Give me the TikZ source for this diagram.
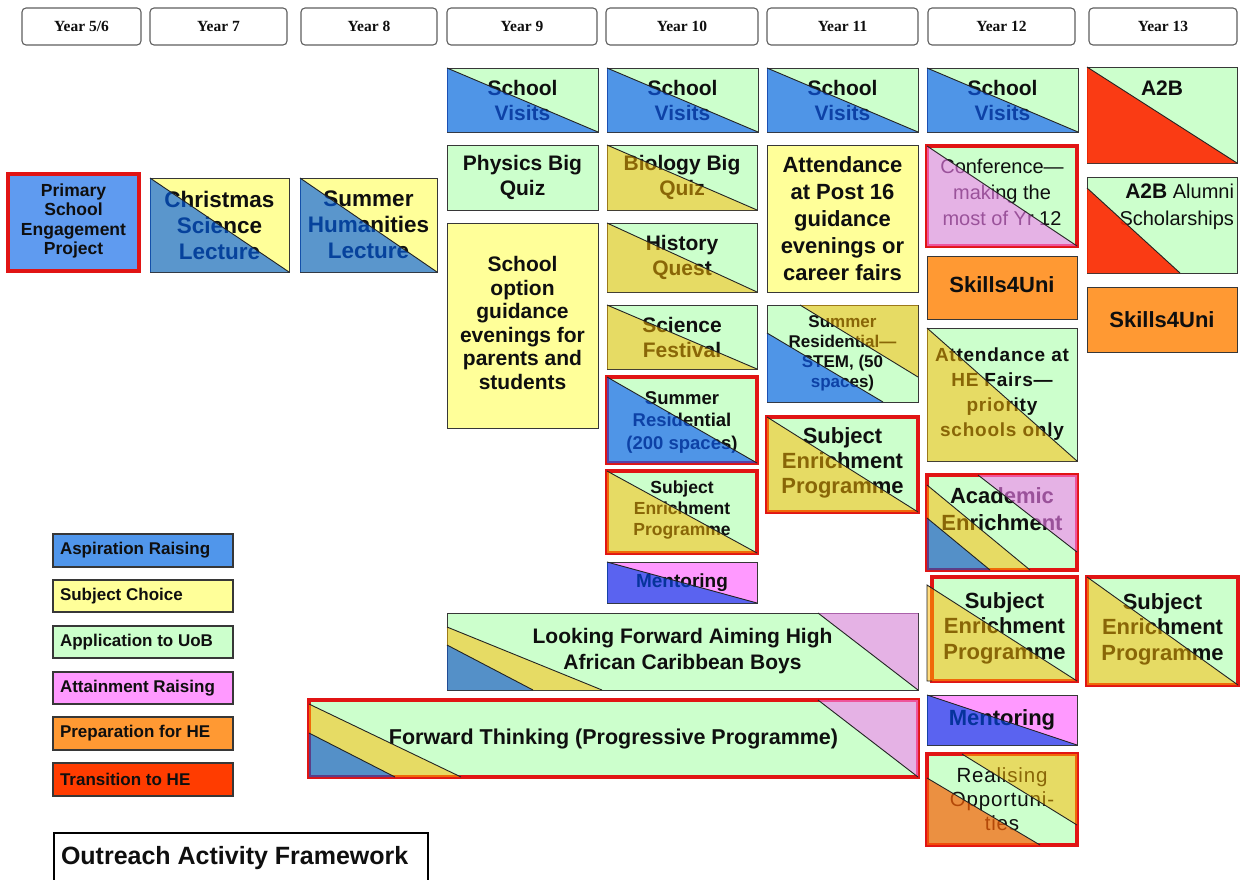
\documentclass[tikz,border=0pt]{standalone}
\usepackage{fontspec}
\setmainfont{Liberation Sans}
\newfontfamily\hdrfont{Liberation Serif}
\newfontfamily\spacedfont[LetterSpace=4]{Liberation Sans}
\usetikzlibrary{fit}

% category colours
\definecolor{appgreen}{RGB}{204,255,204}
\definecolor{subjyellow}{RGB}{255,255,153}
\definecolor{aspblue}{RGB}{80,150,235}
\definecolor{attpink}{RGB}{255,153,255}
\definecolor{prepor}{RGB}{255,153,51}
\definecolor{transred}{RGB}{255,60,0}
\definecolor{primblue}{RGB}{95,155,240}
\definecolor{framered}{RGB}{225,20,20}
\definecolor{edgegrey}{RGB}{55,55,55}
\definecolor{hdredge}{RGB}{95,95,95}
\definecolor{diagc}{RGB}{35,35,35}
\definecolor{ink}{RGB}{15,15,15}
% translucent overlay colours (tint the text and frames beneath them)
\definecolor{cOvBlue}{RGB}{13,93,247}
\definecolor{cOvSteelY}{RGB}{2,94,232}
\definecolor{cOvSteelG}{RGB}{21,86,198}
\definecolor{cOvOlive}{RGB}{255,186,0}
\definecolor{cOvPink}{RGB}{247,127,247}
\definecolor{cOvOrange}{RGB}{249,97,6}
\definecolor{cOvMentor}{RGB}{2,71,232}
\definecolor{cOvRed}{RGB}{255,38,0}

\newcommand\fsz[2]{\fontsize{#1}{#2}\selectfont}
% lower-left half of a box, split along its diagonal
\newcommand\lowtri[2]{%
  \fill[#2] (#1.north west) -- (#1.south east) -- (#1.south west) -- cycle;
  \draw[diag] (#1.north west) -- (#1.south east);}

\begin{document}
\begin{tikzpicture}[x=1pt, y=-1pt,
  panel/.style={draw=edgegrey, line width=1pt, inner sep=0pt, outer sep=0pt},
  redbox/.style={draw=framered, line width=3.6pt},
  hdr/.style={draw=hdredge, line width=1.1pt, rounded corners=4pt, fill=white,
    inner sep=0pt, outer sep=0pt},
  hdrtxt/.style={inner sep=0pt, outer sep=0pt, anchor=base, text=ink,
    font=\hdrfont\bfseries\fsz{15.5}{18}},
  key/.style={draw=edgegrey, line width=1.6pt, inner sep=0pt, outer sep=0pt},
  lbl/.style={inner sep=0pt, outer sep=0pt, align=center, text=ink},
  keytxt/.style={inner sep=0pt, outer sep=0pt, anchor=west, text=ink, font=\bfseries\fsz{17}{20}},
  diag/.style={draw=diagc, line width=0.9pt},
  triblue/.style={fill=cOvBlue, fill opacity=0.65},
  tristeely/.style={fill=cOvSteelY, fill opacity=0.65},
  tristeelg/.style={fill=cOvSteelG, fill opacity=0.65},
  triolive/.style={fill=cOvOlive, fill opacity=0.51},
  tripink/.style={fill=cOvPink, fill opacity=0.6},
  triorange/.style={fill=cOvOrange, fill opacity=0.7},
  trimentor/.style={fill=cOvMentor, fill opacity=0.65},
  trired/.style={fill=cOvRed, fill opacity=0.9}
]
\path[use as bounding box, fill=white] (0,0) rectangle (1240,879);
\clip (0,0) rectangle (1240,879);

% ---- year headers ----
\node[hdr, fit={(22,8)(141,45)}] (h56) {};
\node[hdrtxt] (h56t) at (81.5,31) {Year 5/6};
\node[hdr, fit={(150,8)(287,45)}] (h7) {};
\node[hdrtxt] (h7t) at (218.5,31) {Year 7};
\node[hdr, fit={(301,8)(437,45)}] (h8) {};
\node[hdrtxt] (h8t) at (369,31) {Year 8};
\node[hdr, fit={(447,8)(597,45)}] (h9) {};
\node[hdrtxt] (h9t) at (522,31) {Year 9};
\node[hdr, fit={(606,8)(758,45)}] (h10) {};
\node[hdrtxt] (h10t) at (682,31) {Year 10};
\node[hdr, fit={(767,8)(918,45)}] (h11) {};
\node[hdrtxt] (h11t) at (842.5,31) {Year 11};
\node[hdr, fit={(928,8)(1075,45)}] (h12) {};
\node[hdrtxt] (h12t) at (1001.5,31) {Year 12};
\node[hdr, fit={(1089,8)(1237,45)}] (h13) {};
\node[hdrtxt] (h13t) at (1163,31) {Year 13};

% ---- Years 5/6 to 8 ----
\node[panel, fill=primblue, draw=framered, line width=4.5pt, fit={(8,174)(139,271)}] (pse) {};
\node[lbl, font=\bfseries\fsz{17.5}{19.5}] (pset) at (73.5,221) {Primary\\School\\Engagement\\Project};

\node[panel, fill=subjyellow, fit={(150,178)(289,272)}] (csl) {};
\node[lbl, font=\bfseries\fsz{22.5}{26}] (cslt) at (csl.center) {Christmas\\Science\\Lecture};
\lowtri{csl}{tristeely}

\node[panel, fill=subjyellow, fit={(300,178)(437,272)}] (shl) {};
\node[lbl, font=\bfseries\fsz{22.5}{26}] (shlt) at (shl.center) {Summer\\Humanities\\Lecture};
\lowtri{shl}{tristeely}

% ---- Year 9 ----
\node[panel, fill=appgreen, fit={(447,68)(598,132)}] (sv9) {};
\node[lbl, font=\bfseries\fsz{21}{25}] (sv9t) at (sv9.center) {School\\Visits};
\lowtri{sv9}{triblue}

\node[panel, fill=appgreen, fit={(447,145)(598,210)}] (pbq) {};
\node[lbl, font=\bfseries\fsz{21}{25}] (pbqt) at (pbq.center) {Physics Big\\Quiz};

\node[panel, fill=subjyellow, fit={(447,223)(598,428)}] (sog) {};
\node[lbl, font=\bfseries\fsz{21}{23.5}] (sogt) at (522.5,323) {School\\option\\guidance\\evenings for\\parents and\\students};

% ---- Year 10 ----
\node[panel, fill=appgreen, fit={(607,68)(758,132)}] (sv10) {};
\node[lbl, font=\bfseries\fsz{21}{25}] (sv10t) at (sv10.center) {School\\Visits};
\lowtri{sv10}{triblue}

\node[panel, fill=appgreen, fit={(607,145)(757,210)}] (bbq) {};
\node[lbl, font=\bfseries\fsz{21}{25}] (bbqt) at (bbq.center) {Biology Big\\Quiz};
\lowtri{bbq}{triolive}

\node[panel, fill=appgreen, fit={(607,223)(757,292)}] (hq) {};
\node[lbl, font=\bfseries\fsz{21}{25}] (hqt) at (hq.center) {History\\Quest};
\lowtri{hq}{triolive}

\node[panel, fill=appgreen, fit={(607,305)(757,369)}] (sf) {};
\node[lbl, font=\bfseries\fsz{21}{25}] (sft) at (sf.center) {Science\\Festival};
\lowtri{sf}{triolive}

\node[panel, redbox, fill=appgreen, fit={(607,377)(757,463)}] (sr200) {};
\node[lbl, font=\bfseries\fsz{18.5}{22.5}] (sr200t) at (682,422) {Summer\\Residential\\(200 spaces)};
\lowtri{sr200}{triblue}

\node[panel, redbox, fill=appgreen, fit={(607,471)(757,553)}] (se10) {};
\node[lbl, font=\bfseries\fsz{17.5}{21}] (se10t) at (682,510) {Subject\\Enrichment\\Programme};
\lowtri{se10}{triolive}

\node[panel, fill=attpink, fit={(607,562)(757,603)}] (men10) {};
\node[lbl, font=\bfseries\fsz{19}{22}] (men10t) at (men10.center) {Mentoring};
\lowtri{men10}{trimentor}

% ---- Year 11 ----
\node[panel, fill=appgreen, fit={(767,68)(918,132)}] (sv11) {};
\node[lbl, font=\bfseries\fsz{21}{25}] (sv11t) at (sv11.center) {School\\Visits};
\lowtri{sv11}{triblue}

\node[panel, fill=subjyellow, fit={(767,145)(918,292)}] (ap16) {};
\node[lbl, font=\bfseries\fsz{22}{27}] (ap16t) at (ap16.center) {Attendance\\at Post 16\\guidance\\evenings or\\career fairs};

\node[panel, fill=appgreen, fit={(767,305)(918,402)}] (stem) {};
\node[lbl, font=\bfseries\fsz{17}{20}] (stemt) at (stem.center) {Summer\\Residential—\\STEM, (50\\spaces)};
\fill[triolive] (800,305) -- (918,305) -- (918,377) -- cycle;
\draw[diag] (800,305) -- (918,377);
\fill[triblue] (767,333) -- (883,402) -- (767,402) -- cycle;
\draw[diag] (767,333) -- (883,402);

\node[panel, redbox, fill=appgreen, fit={(767,417)(918,512)}] (se11) {};
\node[lbl, font=\bfseries\fsz{22}{25}] (se11t) at (842.5,463) {Subject\\Enrichment\\Programme};
\lowtri{se11}{triolive}

% ---- Year 12 ----
\node[panel, fill=appgreen, fit={(927,68)(1078,132)}] (sv12) {};
\node[lbl, font=\bfseries\fsz{21}{25}] (sv12t) at (sv12.center) {School\\Visits};
\lowtri{sv12}{triblue}

\node[panel, redbox, fill=appgreen, fit={(927,146)(1077,246)}] (conf) {};
\node[lbl, font=\fsz{20}{26}] (conft) at (1002,192) {Conference—\\making the\\most of Yr 12};
\lowtri{conf}{tripink}

\node[panel, fill=prepor, fit={(927,256)(1077,319)}] (s4u12) {};
\node[lbl, font=\bfseries\fsz{22}{25}] (s4u12t) at (1002,285) {Skills4Uni};

\node[panel, fill=appgreen, fit={(927,328)(1077,461)}] (hef) {};
\node[lbl, font=\spacedfont\bfseries\fsz{19}{25}] (heft) at (hef.center) {Attendance at\\HE Fairs—\\priority\\schools only};
\lowtri{hef}{triolive}

\node[panel, redbox, fill=appgreen, fit={(927,475)(1077,570)}] (acad) {};
\node[lbl, font=\bfseries\fsz{22}{27}] (acadt) at (1002,509) {Academic\\Enrichment};
\fill[tripink] (978,475) -- (1077,475) -- (1077,552) -- cycle;
\draw[diag] (978,475) -- (1077,552);
\fill[triolive] (927,485) -- (1030,570) -- (990,570) -- (927,518) -- cycle;
\draw[diag] (927,485) -- (1030,570);
\fill[tristeelg] (927,518) -- (990,570) -- (927,570) -- cycle;
\draw[diag] (927,518) -- (990,570);

\node[panel, redbox, fill=appgreen, fit={(932,577)(1077,681)}] (se12) {};
\node[lbl, font=\bfseries\fsz{22}{25.5}] (se12t) at (1004.5,628) {Subject\\Enrichment\\Programme};
\fill[triolive] (927,585) -- (1077,681) -- (927,681) -- cycle;
\draw[diag] (1077,681) -- (927,585) -- (927,681) -- (932,681);

\node[panel, fill=attpink, fit={(927,695)(1077,745)}] (men12) {};
\node[lbl, font=\bfseries\fsz{22}{25}] (men12t) at (men12.center) {Mentoring};
\lowtri{men12}{trimentor}

\node[panel, redbox, fill=appgreen, fit={(927,754)(1077,845)}] (ro) {};
\node[lbl, font=\spacedfont\fsz{20.5}{24}] (rot) at (ro.center) {Realising\\Opportuni-\\ties};
\fill[triolive] (962,754) -- (1077,754) -- (1077,825) -- cycle;
\draw[diag] (962,754) -- (1077,825);
\fill[triorange] (927,778) -- (1040,845) -- (927,845) -- cycle;
\draw[diag] (927,778) -- (1040,845);

% ---- Year 13 ----
\node[panel, fill=appgreen, fit={(1087,67)(1237,163)}] (a2b) {};
\node[lbl, font=\bfseries\fsz{21}{25}] (a2bt) at (1162,88) {A2B};
\lowtri{a2b}{trired}

\node[panel, fill=appgreen, fit={(1087,177)(1237,273)}] (a2ba) {};
\node[lbl, align=right, anchor=east, font=\fsz{20}{27}] (a2bat) at (1234,207) {{\bfseries\fsz{21}{27}A2B} Alumni\\Scholarships};
\fill[trired] (1087,188) -- (1180,273) -- (1087,273) -- cycle;
\draw[diag] (1087,188) -- (1180,273);

\node[panel, fill=prepor, fit={(1087,287)(1237,352)}] (s4u13) {};
\node[lbl, font=\bfseries\fsz{22}{25}] (s4u13t) at (s4u13.center) {Skills4Uni};

\node[panel, redbox, fill=appgreen, fit={(1087,577)(1238,685)}] (se13) {};
\node[lbl, font=\bfseries\fsz{22}{25.5}] (se13t) at (1162.5,629) {Subject\\Enrichment\\Programme};
\lowtri{se13}{triolive}

% ---- programmes spanning several years ----
\node[panel, fill=appgreen, fit={(447,613)(918,690)}] (lfah) {};
\node[lbl, font=\bfseries\fsz{21}{26}] (lfaht) at (lfah.center) {Looking Forward Aiming High\\African Caribbean Boys};
\fill[tripink] (818,613) -- (918,613) -- (918,690) -- cycle;
\draw[diag] (818,613) -- (918,690);
\fill[triolive] (447,627) -- (602,690) -- (533,690) -- (447,645) -- cycle;
\draw[diag] (447,627) -- (602,690);
\fill[tristeelg] (447,645) -- (533,690) -- (447,690) -- cycle;
\draw[diag] (447,645) -- (533,690);

\node[panel, redbox, fill=appgreen, fit={(309,700)(918,777)}] (ftp) {};
\node[lbl, font=\bfseries\fsz{21.5}{25}] (ftpt) at (ftp.center) {Forward Thinking (Progressive Programme)};
\fill[tripink] (818,700) -- (918,700) -- (918,777) -- cycle;
\draw[diag] (818,700) -- (918,777);
\fill[triolive] (309,704) -- (461,777) -- (395,777) -- (309,733) -- cycle;
\draw[diag] (309,704) -- (461,777);
\fill[tristeelg] (309,733) -- (395,777) -- (309,777) -- cycle;
\draw[diag] (309,733) -- (395,777);

% ---- key ----
\node[key, fill=aspblue, fit={(53,534)(233,567)}] (k1) {};
\node[keytxt] (k1t) at (60,550.5) {Aspiration Raising};
\node[key, fill=subjyellow, fit={(53,580)(233,612)}] (k2) {};
\node[keytxt] (k2t) at (60,596) {Subject Choice};
\node[key, fill=appgreen, fit={(53,626)(233,658)}] (k3) {};
\node[keytxt] (k3t) at (60,642) {Application to UoB};
\node[key, fill=attpink, fit={(53,672)(233,704)}] (k4) {};
\node[keytxt] (k4t) at (60,688) {Attainment Raising};
\node[key, fill=prepor, fit={(53,717)(233,750)}] (k5) {};
\node[keytxt] (k5t) at (60,733.5) {Preparation for HE};
\node[key, fill=transred, fit={(53,763)(233,796)}] (k6) {};
\node[keytxt] (k6t) at (60,779.5) {Transition to HE};

% ---- title ----
\node[draw=black, line width=1.5pt, fill=white, inner sep=0pt, outer sep=0pt, fit={(54,833)(428,895)}] (ttl) {};
\node[lbl, anchor=west, font=\bfseries\fsz{25}{28}] (ttlt) at (61,858) {Outreach Activity Framework};
\end{tikzpicture}
\end{document}
